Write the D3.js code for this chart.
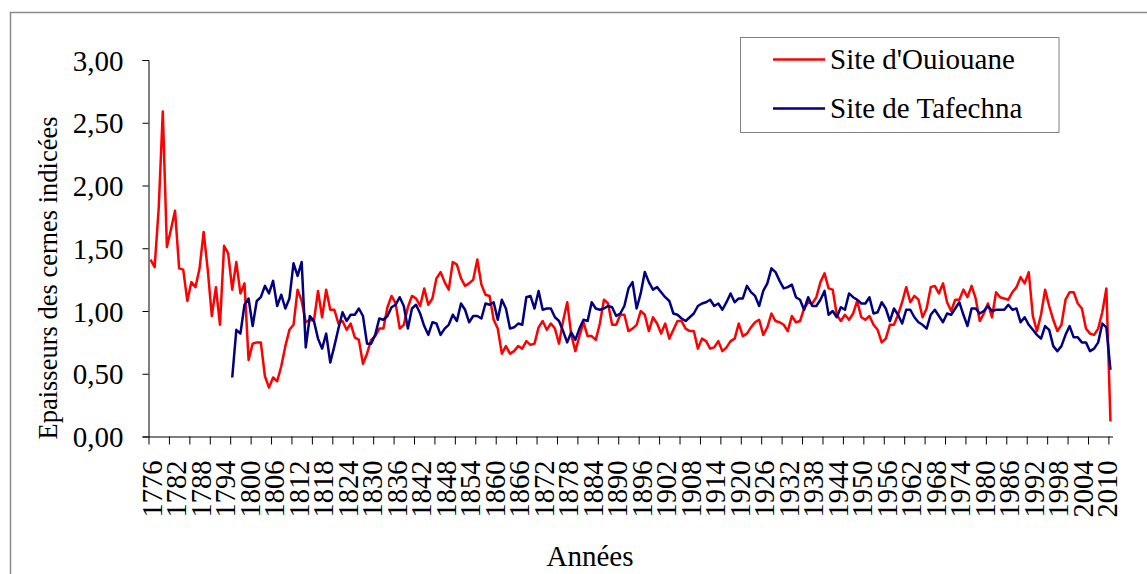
<!DOCTYPE html>
<html>
<head>
<meta charset="utf-8">
<script src="https://cdn.jsdelivr.net/npm/d3@7"></script>
<style>
  body { margin: 0; background: #fff; }
  svg text { font-family: "Liberation Serif", "Times New Roman", serif; fill: #000; }
</style>
</head>
<body>
<svg id="chart" width="1147" height="574"></svg>
<script>
// years 1776 - 2011 (category axis)
const firstYear = 1776, lastYear = 2011;
const years = d3.range(firstYear, lastYear + 1);

// Site d'Ouiouane, 1776 - 2011
const ouiouane = [
  1.41, 1.35, 1.82, 2.59, 1.51, 1.65, 1.80, 1.34, 1.33, 1.08,
  1.23, 1.19, 1.34, 1.63, 1.33, 0.96, 1.19, 0.89, 1.52, 1.46,
  1.17, 1.39, 1.14, 1.22, 0.61, 0.74, 0.75, 0.75, 0.48, 0.39,
  0.47, 0.44, 0.56, 0.72, 0.85, 0.89, 1.17, 1.08, 0.91, 0.93,
  0.92, 1.16, 0.95, 1.17, 1.01, 1.01, 0.90, 0.92, 0.85, 0.90,
  0.79, 0.77, 0.58, 0.66, 0.77, 0.80, 0.86, 0.86, 1.03, 1.12,
  1.06, 0.86, 0.89, 1.03, 1.12, 1.10, 1.04, 1.18, 1.05, 1.10,
  1.26, 1.31, 1.23, 1.17, 1.39, 1.37, 1.26, 1.20, 1.22, 1.25,
  1.41, 1.21, 1.13, 1.12, 0.93, 0.86, 0.66, 0.72, 0.66, 0.68,
  0.72, 0.70, 0.76, 0.73, 0.74, 0.87, 0.92, 0.85, 0.90, 0.86,
  0.74, 0.92, 1.07, 0.81, 0.68, 0.80, 0.91, 0.80, 0.80, 0.77,
  0.90, 1.09, 1.06, 0.89, 0.89, 0.97, 0.97, 0.84, 0.86, 0.89,
  1.00, 0.97, 0.84, 0.95, 0.90, 0.82, 0.90, 0.78, 0.85, 0.92,
  0.92, 0.86, 0.84, 0.84, 0.70, 0.78, 0.76, 0.70, 0.71, 0.76,
  0.68, 0.71, 0.76, 0.78, 0.90, 0.80, 0.82, 0.87, 0.91, 0.93,
  0.81, 0.87, 0.98, 0.92, 0.91, 0.89, 0.84, 0.96, 0.91, 0.92,
  1.02, 1.07, 1.06, 1.11, 1.23, 1.30, 1.18, 1.17, 0.97, 0.92,
  0.97, 0.93, 0.98, 1.08, 0.95, 0.93, 0.96, 0.89, 0.85, 0.75,
  0.78, 0.89, 0.89, 0.97, 1.07, 1.19, 1.07, 1.12, 1.09, 0.95,
  1.02, 1.19, 1.20, 1.14, 1.22, 1.07, 1.00, 1.09, 1.09, 1.17,
  1.11, 1.20, 1.10, 0.92, 0.98, 1.06, 0.95, 1.15, 1.11, 1.10,
  1.09, 1.15, 1.19, 1.27, 1.22, 1.31, 0.96, 0.84, 0.97, 1.17,
  1.04, 0.93, 0.84, 0.89, 1.09, 1.15, 1.15, 1.06, 1.02, 0.86,
  0.82, 0.81, 0.86, 0.99, 1.18, 0.12
];

// Site de Tafechna, 1796 - 2011
const tafechnaStart = 1796;
const tafechna = [
  0.47, 0.85, 0.82, 1.05, 1.10, 0.88, 1.08, 1.11, 1.20, 1.14,
  1.24, 1.04, 1.13, 1.02, 1.10, 1.38, 1.28, 1.39, 0.71, 0.96,
  0.92, 0.78, 0.70, 0.82, 0.59, 0.72, 0.86, 0.99, 0.92, 0.97,
  0.97, 1.02, 0.96, 0.74, 0.74, 0.81, 0.94, 0.93, 0.96, 1.03,
  1.05, 1.11, 1.04, 0.86, 1.02, 1.05, 0.98, 0.88, 0.81, 0.91,
  0.90, 0.81, 0.86, 0.89, 0.97, 0.92, 1.06, 1.01, 0.91, 0.96,
  0.96, 0.94, 1.06, 1.05, 1.07, 0.93, 1.09, 1.02, 0.86, 0.87,
  0.90, 0.89, 1.11, 1.12, 1.02, 1.16, 1.01, 1.02, 1.02, 0.95,
  0.92, 0.84, 0.75, 0.83, 0.77, 0.86, 0.93, 0.92, 1.07, 1.02,
  1.01, 1.02, 1.04, 1.03, 0.96, 0.98, 1.04, 1.18, 1.23, 1.02,
  1.14, 1.31, 1.23, 1.17, 1.19, 1.15, 1.11, 1.08, 0.98, 0.97,
  0.94, 0.92, 0.95, 0.98, 1.04, 1.06, 1.07, 1.09, 1.04, 1.06,
  1.01, 1.07, 1.14, 1.07, 1.10, 1.10, 1.20, 1.15, 1.12, 1.04,
  1.16, 1.22, 1.34, 1.31, 1.24, 1.18, 1.19, 1.21, 1.11, 1.09,
  1.01, 1.11, 1.04, 1.04, 1.09, 1.16, 0.97, 1.00, 0.95, 1.03,
  1.01, 1.14, 1.11, 1.09, 1.06, 1.06, 1.11, 0.98, 0.99, 1.07,
  1.02, 0.92, 1.02, 0.97, 0.90, 1.01, 1.01, 0.95, 0.91, 0.89,
  0.86, 0.97, 1.01, 0.96, 0.91, 0.98, 0.97, 1.02, 1.07, 0.97,
  0.88, 1.02, 1.02, 0.98, 1.00, 1.04, 1.00, 1.01, 1.01, 1.01,
  1.05, 1.01, 1.02, 0.91, 0.95, 0.89, 0.85, 0.81, 0.78, 0.88,
  0.85, 0.72, 0.68, 0.72, 0.81, 0.88, 0.79, 0.79, 0.75, 0.75,
  0.68, 0.70, 0.75, 0.90, 0.87, 0.53
];

const yTicks = [0, 0.5, 1, 1.5, 2, 2.5, 3];
const labelStep = 6;   // one year label every 6 categories
const tickStep = 5;    // one tick mark every 5 categories

const seriesNames = ["Site d'Ouiouane", "Site de Tafechna"];
const seriesColors = ["#ff0000", "#000080"];

const svg = d3.select("#chart");
const plot = { left: 148.5, right: 1112.5, top: 60, bottom: 436.5 };
const fontSize = 29;

// outer frame (cropped by the picture edges)
svg.append("rect")
  .attr("x", 10.5).attr("y", 12.5)
  .attr("width", 1300).attr("height", 800)
  .attr("fill", "none").attr("stroke", "#8a8a8a").attr("stroke-width", 1.5);

const x = d3.scaleBand()
  .domain(years)
  .range([plot.left, plot.right])
  .padding(0);

const xIdx = d3.scaleLinear()
  .domain([0, years.length])
  .range([plot.left, plot.right]);

const y = d3.scaleLinear()
  .domain([0, 3])
  .range([plot.bottom, plot.top]);

const fmt = d => d3.format(".2f")(d).replace(".", ",");

// y axis
const yAxis = svg.append("g")
  .attr("transform", "translate(" + plot.left + ",0)")
  .call(d3.axisLeft(y).tickValues(yTicks).tickFormat(fmt).tickSize(6).tickPadding(19));
yAxis.select(".domain").attr("stroke", "#000");
yAxis.selectAll(".tick line").attr("stroke", "#000");
yAxis.selectAll("text").style("font-size", fontSize + "px").attr("dy", "0.35em");

// x axis: tick marks every 5 categories
const xTickAxis = svg.append("g")
  .attr("transform", "translate(0," + plot.bottom + ")")
  .call(d3.axisBottom(xIdx)
    .tickValues(d3.range(0, years.length + 1, tickStep))
    .tickFormat("")
    .tickSize(8)
    .tickSizeOuter(0));
xTickAxis.select(".domain").attr("stroke", "#000");
xTickAxis.selectAll(".tick line").attr("stroke", "#000");

// x axis: year labels every 6 categories
const xLabelAxis = svg.append("g")
  .attr("transform", "translate(0," + plot.bottom + ")")
  .call(d3.axisBottom(x)
    .tickValues(years.filter((d, i) => i % labelStep === 0))
    .tickSize(0));
xLabelAxis.select(".domain").remove();
xLabelAxis.selectAll("text")
  .style("font-size", "28.5px")
  .attr("transform", "rotate(-90)")
  .attr("text-anchor", "end")
  .attr("x", -24)
  .attr("y", 0)
  .attr("dy", "11px");

// lines
const line = d3.line()
  .x(d => x(d.year) + x.bandwidth() / 2)
  .y(d => y(d.value));

const series = [
  ouiouane.map((v, i) => ({ year: firstYear + i, value: v })),
  tafechna.map((v, i) => ({ year: tafechnaStart + i, value: v }))
];

svg.selectAll(".series")
  .data(series)
  .enter().append("path")
  .attr("class", "series")
  .attr("d", line)
  .attr("fill", "none")
  .attr("stroke", (d, i) => seriesColors[i])
  .attr("stroke-width", 2.5)
  .attr("stroke-linejoin", "round");

// axis titles
svg.append("text")
  .attr("transform", "translate(57,278) rotate(-90)")
  .attr("text-anchor", "middle")
  .style("font-size", "26.5px")
  .text("Epaisseurs des cernes indicées");

svg.append("text")
  .attr("x", 590).attr("y", 566)
  .attr("text-anchor", "middle")
  .style("font-size", fontSize + "px")
  .text("Années");

// legend
const legend = svg.append("g");
legend.append("rect")
  .attr("x", 740.5).attr("y", 37.5)
  .attr("width", 318.5).attr("height", 95)
  .attr("fill", "#fff").attr("stroke", "#808080").attr("stroke-width", 1);

const legendRows = legend.selectAll(".row")
  .data(seriesNames)
  .enter().append("g")
  .attr("class", "row")
  .attr("transform", (d, i) => "translate(0," + (59.5 + i * 49) + ")");

legendRows.append("line")
  .attr("x1", 773).attr("x2", 825)
  .attr("stroke", (d, i) => seriesColors[i])
  .attr("stroke-width", 2.5);

legendRows.append("text")
  .attr("x", 830)
  .attr("dy", "0.33em")
  .style("font-size", fontSize + "px")
  .text(d => d);
</script>
</body>
</html>
